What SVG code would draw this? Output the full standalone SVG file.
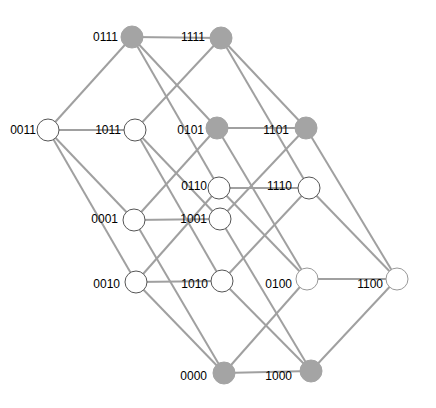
<svg xmlns="http://www.w3.org/2000/svg" width="436" height="408" viewBox="0 0 436 408">
<style>
.e{stroke:#a0a0a0;stroke-width:2;fill:none}
.g{fill:#a4a4a4;stroke:#a4a4a4;stroke-width:1}
.w{fill:#fff;stroke:#555;stroke-width:1}
.wl{fill:#fff;stroke:#999;stroke-width:1}
text{font-family:"Liberation Sans",Arial,sans-serif;font-size:12px;fill:#000;text-anchor:end}
</style>
<rect width="436" height="408" fill="#fff"/>
<g id="edges">
<line class="e" x1="224" y1="373" x2="134" y2="220"/>
<line class="e" x1="224" y1="373" x2="136" y2="282"/>
<line class="e" x1="224" y1="373" x2="307" y2="279"/>
<line class="e" x1="224" y1="373" x2="311" y2="371"/>
<line class="e" x1="134" y1="220" x2="48" y2="130"/>
<line class="e" x1="134" y1="220" x2="217" y2="128"/>
<line class="e" x1="134" y1="220" x2="220" y2="219"/>
<line class="e" x1="136" y1="282" x2="48" y2="130"/>
<line class="e" x1="136" y1="282" x2="219" y2="188"/>
<line class="e" x1="136" y1="282" x2="222" y2="281"/>
<line class="e" x1="48" y1="130" x2="132" y2="37"/>
<line class="e" x1="48" y1="130" x2="135" y2="130"/>
<line class="e" x1="307" y1="279" x2="217" y2="128"/>
<line class="e" x1="307" y1="279" x2="219" y2="188"/>
<line class="e" x1="307" y1="279" x2="397" y2="279"/>
<line class="e" x1="217" y1="128" x2="132" y2="37"/>
<line class="e" x1="217" y1="128" x2="306" y2="128"/>
<line class="e" x1="219" y1="188" x2="132" y2="37"/>
<line class="e" x1="219" y1="188" x2="309" y2="188"/>
<line class="e" x1="132" y1="37" x2="221" y2="38"/>
<line class="e" x1="311" y1="371" x2="220" y2="219"/>
<line class="e" x1="311" y1="371" x2="222" y2="281"/>
<line class="e" x1="311" y1="371" x2="397" y2="279"/>
<line class="e" x1="220" y1="219" x2="135" y2="130"/>
<line class="e" x1="220" y1="219" x2="306" y2="128"/>
<line class="e" x1="222" y1="281" x2="135" y2="130"/>
<line class="e" x1="222" y1="281" x2="309" y2="188"/>
<line class="e" x1="135" y1="130" x2="221" y2="38"/>
<line class="e" x1="397" y1="279" x2="306" y2="128"/>
<line class="e" x1="397" y1="279" x2="309" y2="188"/>
<line class="e" x1="306" y1="128" x2="221" y2="38"/>
<line class="e" x1="309" y1="188" x2="221" y2="38"/>
</g>
<g id="n0000"><circle class="g" cx="224" cy="373" r="11"/><text x="207" y="380">0000</text></g>
<g id="n0001"><circle class="w" cx="134" cy="220" r="11"/><text x="118" y="223">0001</text></g>
<g id="n0010"><circle class="w" cx="136" cy="282" r="11"/><text x="120" y="288">0010</text></g>
<g id="n0011"><circle class="w" cx="48" cy="130" r="11"/><text x="36" y="134">0011</text></g>
<g id="n0100"><circle class="wl" cx="307" cy="279" r="11"/><text x="292" y="288">0100</text></g>
<g id="n0101"><circle class="g" cx="217" cy="128" r="11"/><text x="204" y="134">0101</text></g>
<g id="n0110"><circle class="w" cx="219" cy="188" r="11"/><text x="207" y="190">0110</text></g>
<g id="n0111"><circle class="g" cx="132" cy="37" r="11"/><text x="118" y="41">0111</text></g>
<g id="n1000"><circle class="g" cx="311" cy="371" r="11"/><text x="292" y="380">1000</text></g>
<g id="n1001"><circle class="w" cx="220" cy="219" r="11"/><text x="207" y="223">1001</text></g>
<g id="n1010"><circle class="w" cx="222" cy="281" r="11"/><text x="208" y="288">1010</text></g>
<g id="n1011"><circle class="w" cx="135" cy="130" r="11"/><text x="121" y="134">1011</text></g>
<g id="n1100"><circle class="wl" cx="397" cy="279" r="11"/><text x="383" y="288">1100</text></g>
<g id="n1101"><circle class="g" cx="306" cy="128" r="11"/><text x="289" y="134">1101</text></g>
<g id="n1110"><circle class="w" cx="309" cy="188" r="11"/><text x="292" y="190">1110</text></g>
<g id="n1111"><circle class="g" cx="221" cy="38" r="11"/><text x="205" y="41">1111</text></g>
</svg>
